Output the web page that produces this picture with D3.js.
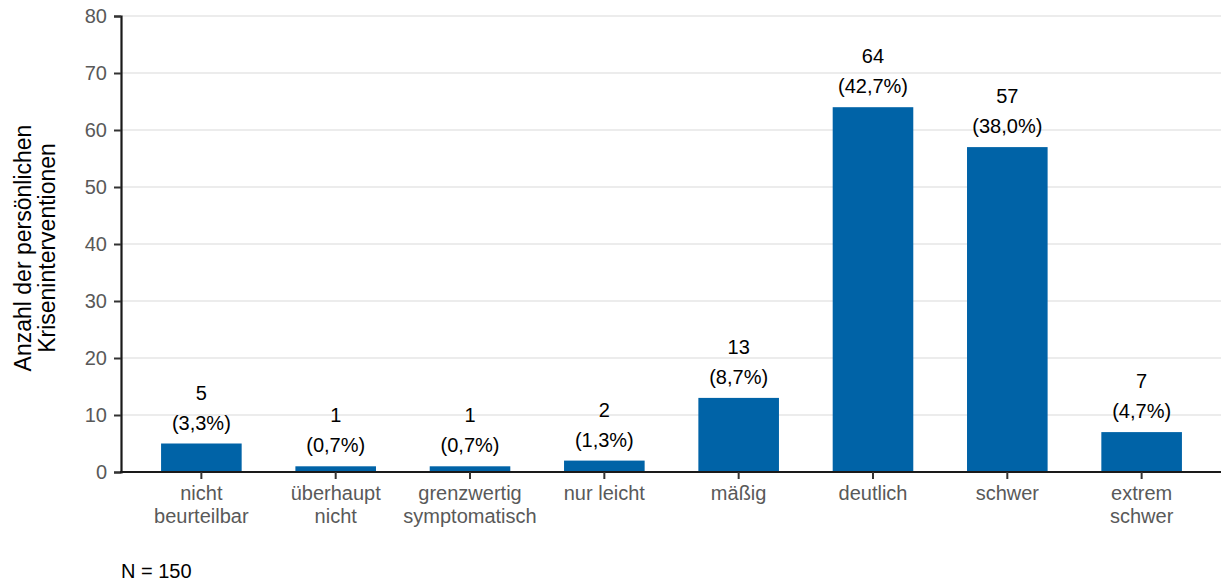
<!DOCTYPE html>
<html><head><meta charset="utf-8">
<script src="https://cdn.jsdelivr.net/npm/d3@7"></script>
<style>body{margin:0;background:#fff}svg{display:block;font-family:"Liberation Sans",Arial,sans-serif}</style>
</head><body><svg id="c" width="1221" height="582"></svg>
<script>
const categories = [["nicht","beurteilbar"],["überhaupt","nicht"],["grenzwertig","symptomatisch"],["nur leicht"],["mäßig"],["deutlich"],["schwer"],["extrem","schwer"]];
const values = [5,1,1,2,13,64,57,7];
const percents = ["(3,3%)","(0,7%)","(0,7%)","(1,3%)","(8,7%)","(42,7%)","(38,0%)","(4,7%)"];
const yTicks = [0,10,20,30,40,50,60,70,80];
const yTitle = ["Anzahl der persönlichen","Kriseninterventionen"];
const note = "N = 150";

const svg = d3.select("#c");
const x = d3.scaleBand().domain(d3.range(values.length)).range([134.2,1208.8]).paddingInner(0.4).paddingOuter(0.2);
const y = d3.scaleLinear().domain([0,80]).range([472,16]);

// grid
svg.append("g").selectAll("line").data(yTicks.filter(d=>d>0)).join("line")
  .attr("x1",121).attr("x2",1221).attr("y1",d=>y(d)).attr("y2",d=>y(d))
  .attr("stroke","#e6e6e6").attr("stroke-width",1.5);

// bars
svg.append("g").selectAll("rect").data(values).join("rect")
  .attr("x",(d,i)=>x(i)).attr("width",x.bandwidth())
  .attr("y",d=>y(d)).attr("height",d=>y(0)-y(d)).attr("fill","#0063a7");

// y axis
const ya = svg.append("g").attr("transform","translate(121,0)")
  .call(d3.axisLeft(y).tickValues(yTicks).tickSize(7).tickPadding(7));
ya.select(".domain").attr("stroke","#1a1a1a").attr("stroke-width",2.2);
ya.selectAll(".tick line").attr("stroke","#333").attr("stroke-width",2);
ya.selectAll(".tick text").attr("font-size",20).attr("fill","#595959").attr("font-family","Liberation Sans, Arial, sans-serif");

// x axis line
svg.append("line").attr("x1",120).attr("x2",1221).attr("y1",472).attr("y2",472).attr("stroke","#1a1a1a").attr("stroke-width",2.2);
svg.append("g").selectAll("line").data(values).join("line")
  .attr("x1",(d,i)=>x(i)+x.bandwidth()/2).attr("x2",(d,i)=>x(i)+x.bandwidth()/2)
  .attr("y1",472).attr("y2",479).attr("stroke","#333").attr("stroke-width",2);

// category labels
const cl = svg.append("g").selectAll("text").data(categories).join("text")
  .attr("text-anchor","middle").attr("font-size",20).attr("fill","#595959")
  .attr("x",(d,i)=>x(i)+x.bandwidth()/2).attr("y",500);
cl.selectAll("tspan").data(d=>d).join("tspan")
  .attr("x",function(){return this.parentNode.getAttribute("x");})
  .attr("dy",(d,j)=>j?23:0).text(d=>d);

// value labels
const vl = svg.append("g").selectAll("g").data(values).join("g");
vl.append("text").attr("text-anchor","middle").attr("font-size",20).attr("fill","#000")
  .attr("x",(d,i)=>x(i)+x.bandwidth()/2).attr("y",d=>y(d)-44).text(d=>d);
vl.append("text").attr("text-anchor","middle").attr("font-size",20).attr("fill","#000")
  .attr("x",(d,i)=>x(i)+x.bandwidth()/2).attr("y",d=>y(d)-14).text((d,i)=>percents[i]);

// y title
svg.append("text").attr("transform","translate(31,248) rotate(-90)").attr("text-anchor","middle")
  .attr("font-size",23).attr("fill","#000")
  .selectAll("tspan").data(yTitle).join("tspan").attr("x",0).attr("dy",(d,j)=>j?24:0).text(d=>d);

svg.append("text").attr("x",121).attr("y",578).attr("font-size",20).attr("fill","#000").text(note);
</script></body></html>
